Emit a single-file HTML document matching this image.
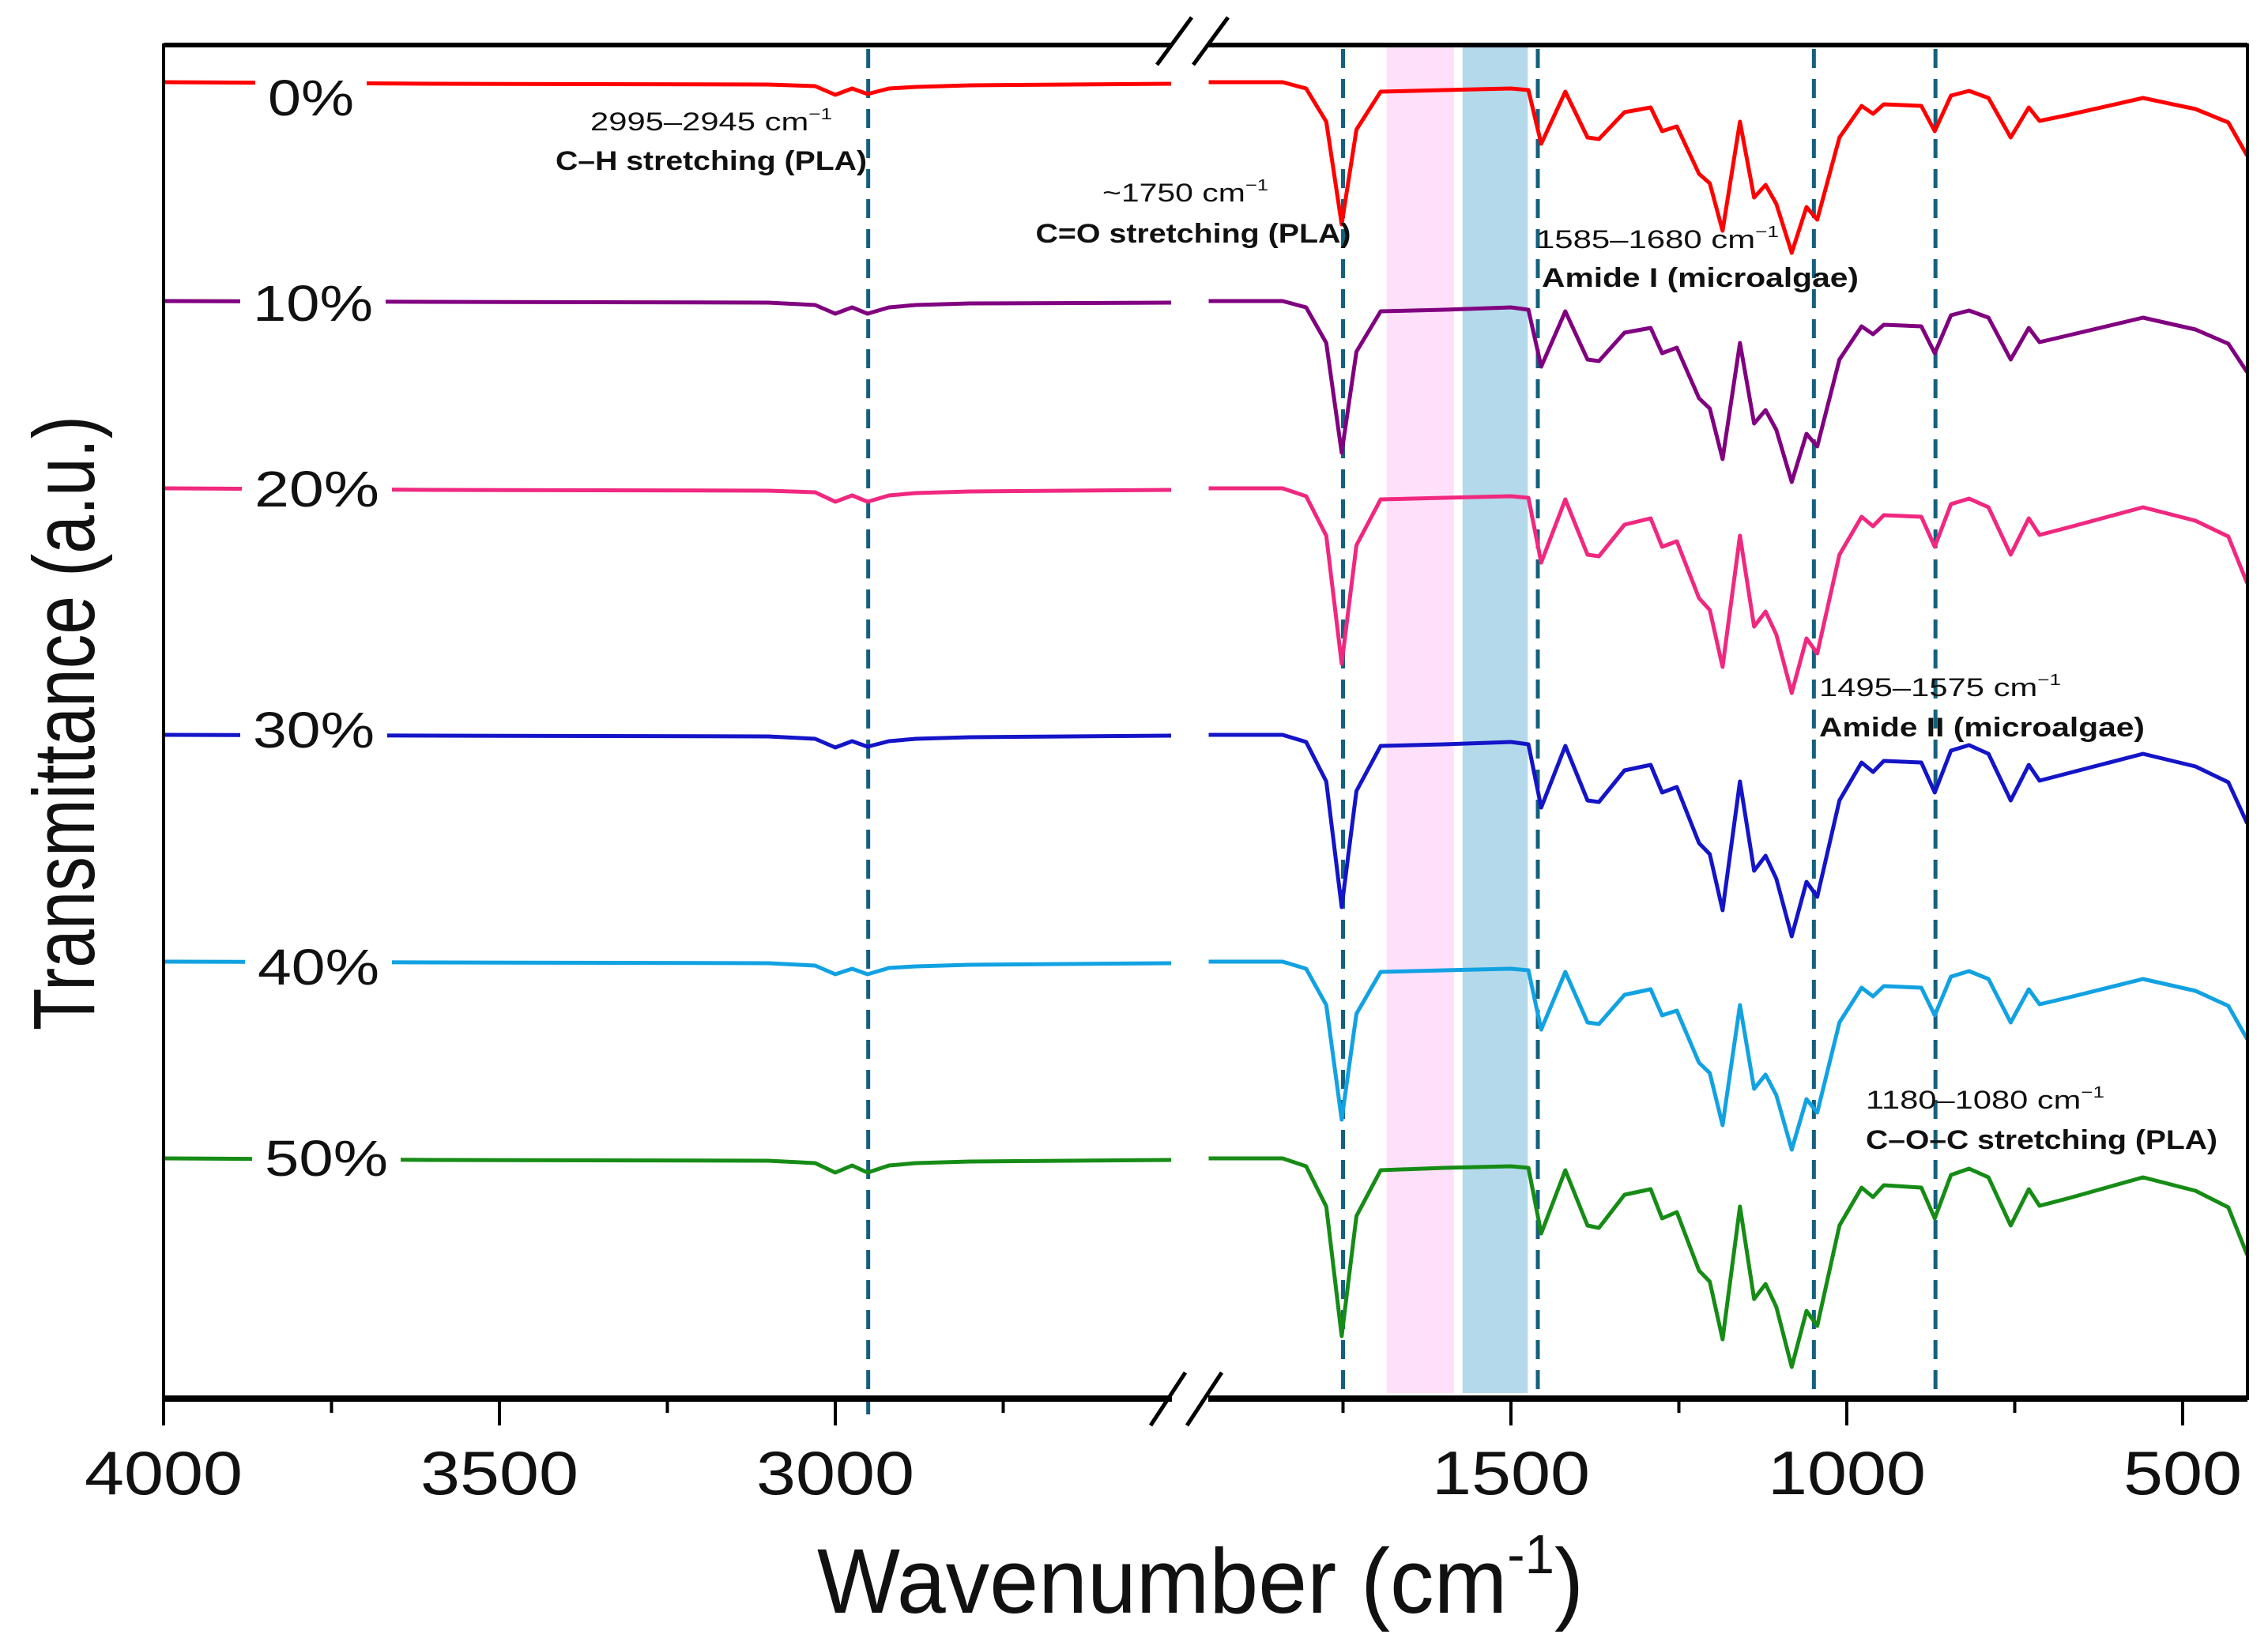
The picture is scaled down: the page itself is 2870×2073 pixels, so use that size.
<!DOCTYPE html>
<html><head><meta charset="utf-8"><style>
html,body{margin:0;padding:0;background:#fff;}
svg{display:block;}
text{font-family:"Liberation Sans",sans-serif;}
</style></head><body>
<svg id="chart" width="2870" height="2073" viewBox="0 0 2870 2073" xmlns="http://www.w3.org/2000/svg">
<rect x="0" y="0" width="2870" height="2073" fill="#fff"/>
<g id="bands"></g>
<g id="dashes"></g>
<g id="series"></g>
<g id="labels"></g>
<g id="axes"></g>
<g fill="#111">
<text x="900" y="165" font-size="32" text-anchor="middle" textLength="306" lengthAdjust="spacingAndGlyphs">2995–2945 cm<tspan font-size="20" dy="-14">−1</tspan></text>
<text x="900" y="215" font-size="34" font-weight="bold" text-anchor="middle" textLength="394" lengthAdjust="spacingAndGlyphs">C–H stretching (PLA)</text>
<text x="1500" y="255" font-size="32" text-anchor="middle" textLength="210" lengthAdjust="spacingAndGlyphs">~1750 cm<tspan font-size="20" dy="-14">−1</tspan></text>
<text x="1510" y="307" font-size="34" font-weight="bold" text-anchor="middle" textLength="399" lengthAdjust="spacingAndGlyphs">C=O stretching (PLA)</text>
<text x="1944" y="314" font-size="32" textLength="307" lengthAdjust="spacingAndGlyphs">1585–1680 cm<tspan font-size="20" dy="-14">−1</tspan></text>
<text x="1951" y="363" font-size="34" font-weight="bold" textLength="401" lengthAdjust="spacingAndGlyphs">Amide I (microalgae)</text>
<text x="2302" y="881" font-size="32" textLength="306" lengthAdjust="spacingAndGlyphs">1495–1575 cm<tspan font-size="20" dy="-14">−1</tspan></text>
<text x="2302" y="932" font-size="34" font-weight="bold" textLength="412" lengthAdjust="spacingAndGlyphs">Amide II (microalgae)</text>
<text x="2361" y="1403" font-size="32" textLength="302" lengthAdjust="spacingAndGlyphs">1180–1080 cm<tspan font-size="20" dy="-14">−1</tspan></text>
<text x="2361" y="1454" font-size="34" font-weight="bold" textLength="445" lengthAdjust="spacingAndGlyphs">C–O–C stretching (PLA)</text>
</g>
<text x="1034" y="2041" font-size="116" textLength="970" lengthAdjust="spacingAndGlyphs" fill="#111">Wavenumber (cm<tspan font-size="70" dy="-50">-1</tspan><tspan dy="50">)</tspan></text>
<text transform="translate(119,915) rotate(-90)" x="0" y="0" font-size="110" text-anchor="middle" textLength="778" lengthAdjust="spacingAndGlyphs" fill="#111">Transmittance (a.u.)</text>
</svg>
<script>
const bandRanges = [[1685, 1585], [1572, 1475]];
const bandColors = ['#ffe0fa', '#b3d9ea'];
const markerWavenumbers = [2951, 1750, 1460, 1049, 868];
const seriesNames = ['0%', '10%', '20%', '30%', '40%', '50%'];
const seriesColors = ['#ff0000', '#800080', '#f0287f', '#1414c8', '#12a2e2', '#168c16'];
const seriesOffsets = [0, -277, -514, -826, -1113, -1362];
const leftWavenumbers = [4000, 3600, 3100, 3030, 3000, 2975, 2952, 2920, 2880, 2800, 2500];
const leftDrops = [
  [0, 2, 3, 5, 16, 8, 15, 8, 6, 4, 2],
  [0, 1, 2, 5, 16, 8, 16, 8, 5, 3, 2],
  [0, 2, 3, 5, 17, 9, 17, 9, 6, 4, 2],
  [0, 1, 2, 5, 16, 8, 15, 8, 5, 3, 1],
  [0, 1, 2, 5, 16, 9, 16, 8, 6, 4, 2],
  [0, 2, 3, 6, 18, 9, 18, 9, 6, 4, 2]
];
const rightWavenumbers = [1950,1840,1805,1775,1752,1730,1694,1600,1500,1474,1455,1419,1386,1369,1331,1292,1275,1253,1220,1204,1185,1159,1138,1121,1105,1082,1060,1044,1011,978,961,945,889,869,845,818,789,756,729,713,668,559,481,432,404];
const rightDrops = [
  [0,0,8,50,180,60,12,10,8,10,78,12,70,72,38,32,62,56,116,128,188,50,146,130,154,216,158,174,70,30,40,28,30,62,17,11,20,70,32,49,41,20,34,51,93],
  [0,0,8,53,192,64,13,11,8,11,83,13,74,76,40,34,66,59,123,136,200,53,155,138,163,229,168,184,74,32,42,30,32,66,18,12,21,74,34,52,43,21,36,54,90],
  [0,0,10,60,222,72,14,12,10,12,94,14,84,86,46,38,74,67,139,154,226,60,175,156,185,259,190,209,84,36,48,34,36,74,20,13,24,84,38,59,49,24,41,61,120],
  [0,0,9,59,218,71,14,12,9,12,92,14,83,85,45,38,73,66,137,151,222,59,172,153,182,255,186,205,83,35,47,33,35,73,20,13,24,83,38,58,48,24,40,60,112],
  [0,0,9,55,200,66,13,11,9,11,86,13,77,79,42,35,68,62,128,141,207,55,161,143,169,238,174,191,77,33,44,31,33,68,19,12,22,77,35,54,45,22,37,56,98],
  [0,0,10,61,225,73,15,12,10,12,95,15,85,88,46,39,76,68,142,156,229,61,178,159,188,264,193,212,85,37,49,34,37,76,21,13,24,85,39,60,50,24,41,62,122]
];
const majorTicks = [4000, 3500, 3000, 1500, 1000, 500];
const minorTicks = [3750, 3250, 2750, 1750, 1250, 750];
const tickLabels = ['4000', '3500', '3000', '1500', '1000', '500'];

const NS = 'http://www.w3.org/2000/svg';
const PL = 207, PR = 2844, PT = 57, PB = 1770;
function xScale(w) { return w > 2200 ? PL + (4000 - w) * 0.85 : 1912 + (1500 - w) * 0.85; }
function yScale(v) { return 104 - v; }
function mk(tag, attrs, parent) {
  const el = document.createElementNS(NS, tag);
  for (const k in attrs) el.setAttribute(k, attrs[k]);
  parent.appendChild(el);
  return el;
}

const gB = document.getElementById('bands');
bandRanges.forEach((b, i) => {
  const r = mk('rect', {x: xScale(b[0]), y: 60, width: xScale(b[1]) - xScale(b[0]), height: 1703, fill: bandColors[i]}, gB);
  
  
});

const gS = document.getElementById('series');
seriesNames.forEach((n, i) => {
  const g = mk('g', {}, gS);
  
  
  const l = leftWavenumbers.map((w, j) => xScale(w).toFixed(1) + ',' + yScale(seriesOffsets[i] - leftDrops[i][j]).toFixed(1)).join(' ');
  const r = rightWavenumbers.map((w, j) => xScale(w).toFixed(1) + ',' + yScale(seriesOffsets[i] - rightDrops[i][j]).toFixed(1)).join(' ');
  const p1 = mk('polyline', {points: l, fill: 'none', stroke: seriesColors[i], 'stroke-width': 5, 'stroke-linejoin': 'round'}, g);
  
  
  const p2 = mk('polyline', {points: r, fill: 'none', stroke: seriesColors[i], 'stroke-width': 5, 'stroke-linejoin': 'round'}, g);
  
  
});

const gD = document.getElementById('dashes');
markerWavenumbers.forEach((w, i) => {
  const ln = mk('line', {x1: xScale(w), x2: xScale(w), y1: 62, y2: i === 0 ? 1790 : 1760, stroke: '#15607f', 'stroke-width': 5, 'stroke-dasharray': '24 14'}, gD);
  
  
});

const gL = document.getElementById('labels');
const seriesLabelBoxes = [[339,146,109],[320,406,152],[322,641,158],[320,946,154],[326,1246,154],[335,1488,156]];
seriesNames.forEach((n, i) => {
  const p = seriesLabelBoxes[i];
  const bg = mk('rect', {x: p[0] - 16, y: p[1] - 58, width: p[2] + 32, height: 70, fill: '#fff'}, gL);
  
  
  const t = mk('text', {x: p[0], y: p[1], 'font-size': 64, textLength: p[2], lengthAdjust: 'spacingAndGlyphs', fill: '#111'}, gL);
  t.textContent = n;
  
  
});

const gA = document.getElementById('axes');
const frame = mk('path', {d: `M1483 ${PT} H${PL} V${PB} H1483 M1529 ${PT} H${PR} V${PB} H1529`, fill: 'none', stroke: '#000', 'stroke-width': 4}, gA);


const topLine = mk('path', {d: `M${PL} ${PT} H1483 M1529 ${PT} H${PR}`, stroke: '#000', 'stroke-width': 6}, gA);


const xAxis = mk('path', {d: `M${PL} ${PB} H1483 M1529 ${PB} H${PR}`, stroke: '#000', 'stroke-width': 8}, gA);


const breakTop = mk('path', {d: 'M1464 82 L1508 22 M1510 82 L1554 22', stroke: '#000', 'stroke-width': 5, fill: 'none'}, gA);


const breakBottom = mk('path', {d: 'M1456 1804 L1500 1737 M1502 1804 L1546 1737', stroke: '#000', 'stroke-width': 5, fill: 'none'}, gA);


majorTicks.forEach((w, i) => {
  const tk = mk('line', {x1: xScale(w), x2: xScale(w), y1: PB, y2: PB + 34, stroke: '#000', 'stroke-width': 4}, gA);
  
  
  const t = mk('text', {x: xScale(w), y: 1891, 'font-size': 78, 'text-anchor': 'middle', textLength: tickLabels[i].length * 50, lengthAdjust: 'spacingAndGlyphs', fill: '#111'}, gA);
  t.textContent = tickLabels[i];
  
  
});
minorTicks.forEach(w => {
  const tk = mk('line', {x1: xScale(w), x2: xScale(w), y1: PB, y2: PB + 18, stroke: '#000', 'stroke-width': 4}, gA);
  
  
});
</script>
</body></html>
